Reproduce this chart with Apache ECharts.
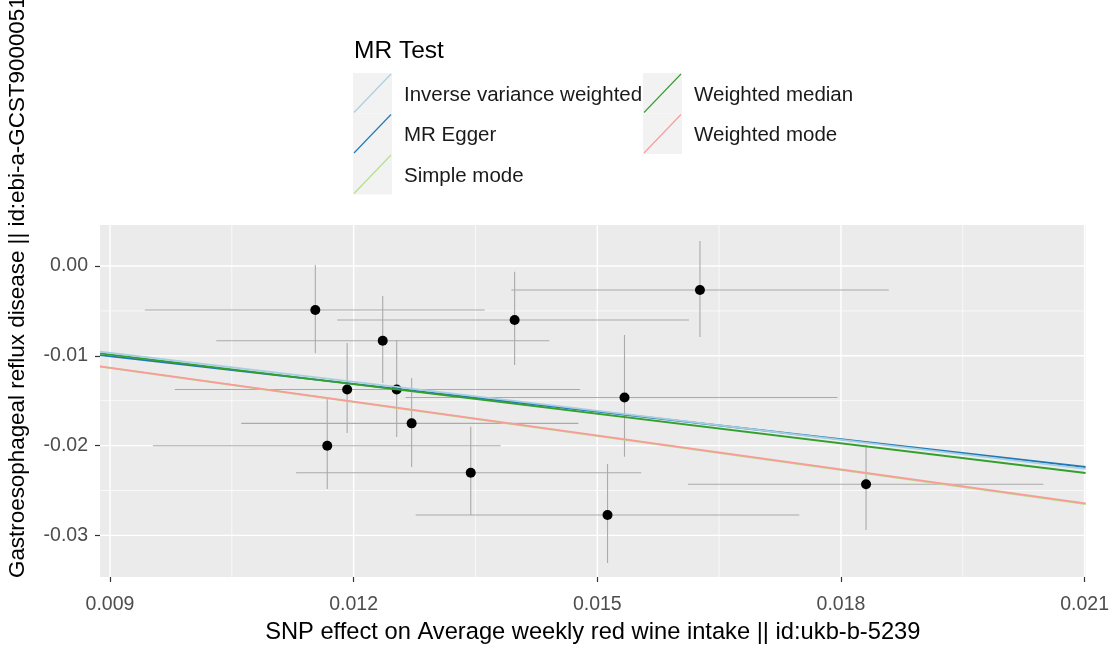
<!DOCTYPE html>
<html><head><meta charset="utf-8">
<script src="https://cdn.jsdelivr.net/npm/echarts@6/dist/echarts.min.js"></script>
<style>html,body{margin:0;padding:0;background:#fff}#c{width:1112px;height:655px}</style>
</head><body><div id="c"></div>
<script>
// SNP effects (exposure = x, outcome = y) with error-bar bounds
const snpX   = [0.011528, 0.012358, 0.013982, 0.016264, 0.011920, 0.012530, 0.012714, 0.011675, 0.013442, 0.015335, 0.015126, 0.018309];
const snpY   = [-0.00490, -0.00832, -0.00601, -0.00267, -0.01375, -0.01375, -0.01752, -0.02001, -0.02302, -0.01464, -0.02773, -0.02431];
const snpXlo = [0.009429, 0.010309, 0.011798, 0.013941, 0.009798, 0.010500, 0.010616, 0.009528, 0.011291, 0.012640, 0.012763, 0.016117];
const snpXhi = [0.013613, 0.014411, 0.016129, 0.018590, 0.014788, 0.014600, 0.014767, 0.013810, 0.015540, 0.017957, 0.017487, 0.020493];
const snpYlo = [-0.00969, -0.01303, -0.01102, -0.00791, -0.01860, -0.01904, -0.02238, -0.02483, -0.02773, -0.02124, -0.03307, -0.02940];
const snpYhi = [ 0.00011, -0.00334, -0.00063,  0.00278, -0.00857, -0.00824, -0.01247, -0.01470, -0.01790, -0.00768, -0.02205, -0.01993];

// MR methods: names, slopes, intercepts, colours (draw order as in source)
const methodNames  = ['MR Egger', 'Weighted median', 'Inverse variance weighted', 'Simple mode', 'Weighted mode'];
const methodSlope  = [-1.027, -1.097, -1.075, -1.262, -1.258];
const methodInt    = [-0.0008, 0, 0, 0, 0];
const methodColor  = ['#1f78b4', '#33a02c', '#a6cee3', '#b2df8a', '#fb9a99'];

// legend order (two columns as in source)
const legendCol1 = ['Inverse variance weighted', 'MR Egger', 'Simple mode'];
const legendCol2 = ['Weighted median', 'Weighted mode'];

// axes
const X_MIN = 0.008877, X_MAX = 0.021012;
const Y_MIN = -0.03463, Y_MAX = 0.004566;
const xTicks = [0.009, 0.012, 0.015, 0.018, 0.021];
const xTickLabels = ['0.009', '0.012', '0.015', '0.018', '0.021'];
const xMinor = [0.0105, 0.0135, 0.0165, 0.0195];
const yTicks = [0.00, -0.01, -0.02, -0.03];
const yTickLabels = ['0.00', '-0.01', '-0.02', '-0.03'];
const yMinor = [-0.005, -0.015, -0.025];

const FONT = '"Liberation Sans", Arial, sans-serif';
const chart = echarts.init(document.getElementById('c'), null, {renderer: 'canvas'});

function labelFor(ticks, labels) {
  return function (v) {
    for (let i = 0; i < ticks.length; i++) if (Math.abs(ticks[i] - v) < 1e-9) return labels[i];
    return '';
  };
}

// grid lines data
const gridData = [];
xTicks.forEach(v => gridData.push([v, 0, 1]));
xMinor.forEach(v => gridData.push([v, 0, 0]));
yTicks.forEach(v => gridData.push([0, v, 3]));
yMinor.forEach(v => gridData.push([0, v, 2]));

const errData = snpX.map((x, i) => [x, snpY[i], snpXlo[i], snpXhi[i], snpYlo[i], snpYhi[i]]);

const series = [];
series.push({
  type: 'custom', silent: true, z: 1, clip: true,
  data: gridData,
  renderItem: function (params, api) {
    const kind = api.value(2);
    const major = kind === 1 || kind === 3;
    let p1, p2;
    if (kind < 2) { p1 = api.coord([api.value(0), Y_MIN]); p2 = api.coord([api.value(0), Y_MAX]); }
    else { p1 = api.coord([X_MIN, api.value(1)]); p2 = api.coord([X_MAX, api.value(1)]); }
    return {type: 'line', shape: {x1: p1[0], y1: p1[1], x2: p2[0], y2: p2[1]},
      style: {stroke: '#ffffff', lineWidth: major ? 1.4 : 0.7}};
  }
});
series.push({
  type: 'custom', silent: true, z: 2, clip: true,
  data: errData,
  renderItem: function (params, api) {
    const a = api.coord([api.value(2), api.value(1)]);
    const b = api.coord([api.value(3), api.value(1)]);
    const c = api.coord([api.value(0), api.value(4)]);
    const d = api.coord([api.value(0), api.value(5)]);
    const st = {stroke: '#aaaaaa', lineWidth: 1.1};
    return {type: 'group', children: [
      {type: 'line', shape: {x1: a[0], y1: a[1], x2: b[0], y2: b[1]}, style: st},
      {type: 'line', shape: {x1: c[0], y1: c[1], x2: d[0], y2: d[1]}, style: st}
    ]};
  }
});
series.push({
  type: 'scatter', z: 3, silent: true,
  data: snpX.map((x, i) => [x, snpY[i]]),
  symbol: 'circle', symbolSize: 10,
  itemStyle: {color: '#000000', opacity: 1}
});
methodNames.forEach((n, i) => {
  series.push({
    type: 'line', name: n, z: 4 + i, silent: true, showSymbol: false, symbol: 'none',
    data: [[X_MIN, methodInt[i] + methodSlope[i] * X_MIN], [X_MAX, methodInt[i] + methodSlope[i] * X_MAX]],
    lineStyle: {color: methodColor[i], width: 1.8},
    clip: true
  });
});

// legend graphics
const graphics = [];
graphics.push({type: 'text', left: 354, top: 39, style: {text: 'MR Test', font: '24.5px ' + FONT, fill: '#000'}});
function colorOf(name) { return methodColor[methodNames.indexOf(name)]; }
const KEY_W = 39, KEY_H = 40.5, KEY_TOP = 73;
function addKeys(list, kx, tx) {
  list.forEach((name, r) => {
    const y0 = KEY_TOP + r * KEY_H;
    graphics.push({type: 'rect', shape: {x: kx, y: y0, width: KEY_W, height: KEY_H}, style: {fill: '#f2f2f2'}, silent: true});
    graphics.push({type: 'line', shape: {x1: kx + 1, y1: y0 + KEY_H - 1, x2: kx + KEY_W - 1, y2: y0 + 1}, style: {stroke: colorOf(name), lineWidth: 1.1}, silent: true});
    graphics.push({type: 'text', x: tx, y: y0 + KEY_H / 2 + 2, style: {text: name, font: '20.5px ' + FONT, fill: '#1a1a1a', textVerticalAlign: 'middle', textAlign: 'left'}});
  });
}
addKeys(legendCol1, 353, 404);
addKeys(legendCol2, 643, 694);
graphics.push({type: 'text', x: 18, y: 578, rotation: Math.PI / 2,
  style: {text: 'Gastroesophageal reflux disease || id:ebi-a-GCST90000514', font: '22.4px ' + FONT, fill: '#000', textAlign: 'left', textVerticalAlign: 'middle'}});

chart.setOption({
  animation: false,
  backgroundColor: '#ffffff',
  grid: {left: 100, right: 23, top: 225, bottom: 78, show: true, backgroundColor: '#ebebeb', borderWidth: 0},
  xAxis: {
    type: 'value', min: X_MIN, max: X_MAX,
    name: 'SNP effect on Average weekly red wine intake || id:ukb-b-5239',
    nameLocation: 'middle', nameGap: 43,
    nameTextStyle: {fontFamily: FONT, fontSize: 23.7, color: '#000'},
    axisLine: {show: true, onZero: false, lineStyle: {color: 'rgba(0,0,0,0)'}},
    axisTick: {show: true, inside: false, length: 5, customValues: xTicks, lineStyle: {color: '#333333', width: 1.2}},
    axisLabel: {customValues: xTicks, formatter: labelFor(xTicks, xTickLabels), fontFamily: FONT, fontSize: 19.5, color: '#4d4d4d', margin: 18, showMinLabel: true, showMaxLabel: true},
    splitLine: {show: false}
  },
  yAxis: {
    type: 'value', min: Y_MIN, max: Y_MAX,
    axisLine: {show: true, onZero: false, lineStyle: {color: 'rgba(0,0,0,0)'}},
    axisTick: {show: true, inside: false, length: 5, customValues: yTicks, lineStyle: {color: '#333333', width: 1.2}},
    axisLabel: {customValues: yTicks, formatter: labelFor(yTicks, yTickLabels), fontFamily: FONT, fontSize: 19.5, color: '#4d4d4d', margin: 12},
    splitLine: {show: false}
  },
  graphic: graphics,
  series: series
});
</script></body></html>
